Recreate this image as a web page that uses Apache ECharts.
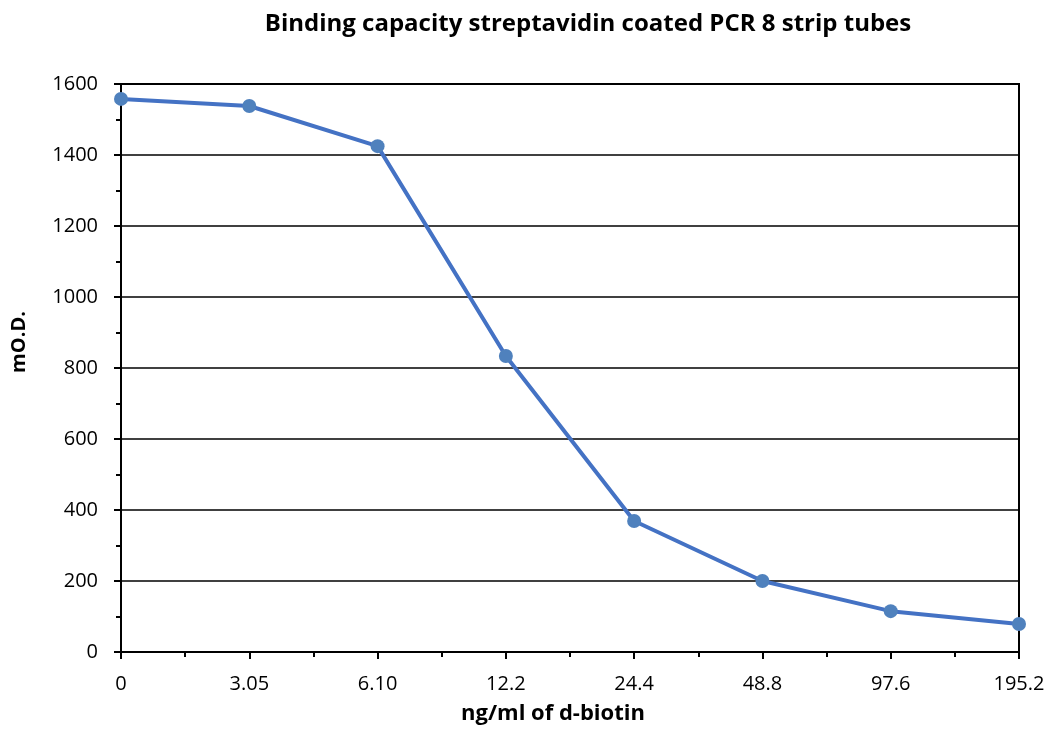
<!DOCTYPE html>
<html>
<head>
<meta charset="utf-8">
<script src="https://cdn.jsdelivr.net/npm/echarts@6/dist/echarts.min.js"></script>
<style>html,body{margin:0;padding:0;background:#fff}#c{width:1049px;height:751px}</style>
</head>
<body>
<div id="c"></div>
<script>
const categories = ['0', '3.05', '6.10', '12.2', '24.4', '48.8', '97.6', '195.2'];
const values = [1558, 1538, 1425, 834, 369, 200, 115, 79];
const yTicks = [0, 200, 400, 600, 800, 1000, 1200, 1400, 1600];

const chart = echarts.init(document.getElementById('c'));
const font = '"Open Sans", "Liberation Sans", sans-serif';
chart.setOption({
  animation: false,
  title: {
    text: 'Binding capacity streptavidin coated PCR 8 strip tubes',
    left: 583, top: 7, textAlign: 'center',
    textStyle: {fontFamily: font, fontSize: 24, fontWeight: 'bold', color: '#000'}
  },
  grid: {left: 121, right: 30, top: 84, bottom: 99, show: true, borderColor: '#000', borderWidth: 2, containLabel: false},
  xAxis: {
    type: 'value', min: 0, max: categories.length - 1, interval: 1,
    name: 'ng/ml of d-biotin', nameLocation: 'middle', nameGap: 51,
    nameTextStyle: {fontFamily: font, fontSize: 22, fontWeight: 'bold', color: '#000', padding: [0, 34, 0, 0]},
    axisLine: {lineStyle: {color: '#000', width: 2}},
    axisTick: {show: true, length: 7, lineStyle: {color: '#000', width: 2}},
    minorTick: {show: true, splitNumber: 2, length: 5, lineStyle: {color: '#000', width: 2}},
    splitLine: {show: false},
    axisLabel: {fontFamily: font, fontSize: 20, color: '#000', margin: 22,
      formatter: v => categories[Math.round(v)] ?? ''}
  },
  yAxis: {
    type: 'value', min: yTicks[0], max: yTicks[yTicks.length - 1], interval: 200,
    name: 'mO.D.', nameLocation: 'middle', nameGap: 92, nameRotate: 90,
    nameTextStyle: {fontFamily: font, fontSize: 20, fontWeight: 'bold', color: '#000', padding: [0, 0, 0, 52]},
    axisLine: {show: true, lineStyle: {color: '#000', width: 2}},
    axisTick: {show: true, length: 7, lineStyle: {color: '#000', width: 2}},
    minorTick: {show: true, splitNumber: 2, length: 5, lineStyle: {color: '#000', width: 2}},
    splitLine: {show: true, lineStyle: {color: '#000', width: 1.5}},
    axisLabel: {fontFamily: font, fontSize: 20, color: '#000', margin: 23,
      formatter: v => String(v)}
  },
  series: [{
    type: 'line',
    data: values.map((v, i) => [i, v]),
    symbol: 'circle', symbolSize: 14,
    lineStyle: {color: '#4472C4', width: 4},
    itemStyle: {color: '#4F81BD'},
    clip: false
  }]
});
</script>
</body>
</html>
